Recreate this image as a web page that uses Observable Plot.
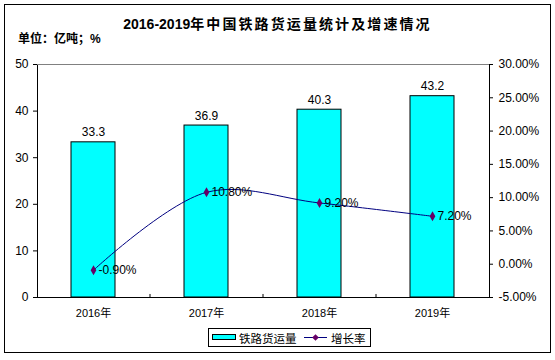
<!DOCTYPE html>
<html>
<head>
<meta charset="utf-8">
<script src="https://cdn.jsdelivr.net/npm/d3@7"></script>
<script src="https://cdn.jsdelivr.net/npm/@observablehq/plot@0.6"></script>
<style>
  html, body { margin: 0; padding: 0; background: #fff; }
  #wrap { position: relative; width: 555px; height: 360px; font-family: "Liberation Sans", "Noto Sans CJK SC", sans-serif; }
  #border { position: absolute; left: 4px; top: 4px; width: 547px; height: 349px; border: 1px solid #000; box-sizing: border-box; pointer-events: none; }
  #title { position: absolute; left: 0; width: 555px; top: 17px; text-align: center; font-size: 14px; line-height: 14px; font-weight: bold; color: #000; white-space: nowrap; }
  #title .cjk { letter-spacing: 2.1px; }
  #unit { position: absolute; left: 18px; top: 33px; font-size: 12px; line-height: 13px; font-weight: bold; color: #000; white-space: nowrap; }
  #legend { position: absolute; left: 208px; top: 328px; }
  #chart { position: absolute; left: 0; top: 0; }
</style>
</head>
<body>
<div id="wrap">
  <div id="chart"></div>
  <div id="border"></div>
  <div id="title"></div>
  <div id="unit"></div>
  <svg id="legend" width="164" height="20"></svg>
</div>
<script>
// ---- data ----
const years = ["2016年", "2017年", "2018年", "2019年"];
const volume = [33.3, 36.9, 40.3, 43.2];          // 亿吨
const growth = [-0.9, 10.8, 9.2, 7.2];             // %
const leftTicks = [0, 10, 20, 30, 40, 50];
const pctTicks = [-5, 0, 5, 10, 15, 20, 25, 30];
const pctTickLabels = ["-5.00%", "0.00%", "5.00%", "10.00%", "15.00%", "20.00%", "25.00%", "30.00%"];
const titleDigits = "2016-2019";
const titleCjk = "年中国铁路货运量统计及增速情况";
const unitText = "单位：亿吨；%";
const seriesNames = ["铁路货运量", "增长率"];

// ---- map secondary axis (-5%..30%) onto primary (0..50) ----
const pMin = -5, pMax = 30, yMax = 50;
const toY = p => (p - pMin) / (pMax - pMin) * yMax;

const data = years.map((y, i) => ({year: y, volume: volume[i], growth: growth[i]}));

document.getElementById("title").innerHTML =
  `<span>${titleDigits}</span><span class="cjk">${titleCjk}</span>`;
document.getElementById("unit").textContent = unitText;

const plotW = 555, mL = 37, mR = 66;
const step = (plotW - mL - mR) / years.length;

const chart = Plot.plot({
  width: 555,
  height: 360,
  marginLeft: mL,
  marginRight: mR,
  marginTop: 64,
  marginBottom: 63,
  style: {fontFamily: '"Liberation Sans", "Noto Sans CJK SC", sans-serif', fontSize: "12px", color: "#000", background: "transparent", overflow: "visible"},
  x: {type: "band", domain: years, paddingInner: 0.61, paddingOuter: 0.305},
  y: {domain: [0, 50]},
  marks: [
    Plot.barY(data, {x: "year", y: "volume", fill: "#00FFFF", stroke: "#000", strokeWidth: 1}),
    Plot.frame({stroke: "#000"}),
    Plot.ruleY([50], {stroke: "#808080"}),
    Plot.ruleX(years.slice(1), {x: d => d, y1: 0, y2: 0.65, dx: -step / 2, stroke: "#000"}),
    Plot.text(data, {x: "year", y: "volume", text: d => d.volume.toFixed(1), lineAnchor: "bottom", dy: -6, fontSize: 12, fill: "#000"}),
    Plot.line(data, {x: "year", y: d => toY(d.growth), curve: "catmull-rom", stroke: "#000080", strokeWidth: 1}),
    Plot.dot(data, {x: "year", y: d => toY(d.growth), symbol: "diamond", r: 3, fill: "#660066", stroke: "none"}),
    Plot.text(data, {x: "year", y: d => toY(d.growth), text: d => d.growth.toFixed(2) + "%", textAnchor: "start", dx: 5, fontSize: 12, fill: "#000"}),
    Plot.axisY({anchor: "left", ticks: leftTicks, tickSize: 4, tickPadding: 5, label: null, fontSize: 12}),
    Plot.axisY(pctTicks.map(toY), {anchor: "right", tickSize: 3, tickPadding: 6, label: null, fontSize: 12,
      tickFormat: v => pctTickLabels[pctTicks.findIndex(p => Math.abs(toY(p) - v) < 1e-9)]}),
    Plot.axisX({tickSize: 0, tickPadding: 12, label: null, fontSize: 11})
  ]
});
document.getElementById("chart").appendChild(chart);

// ---- legend ----
const lg = d3.select("#legend");
lg.append("rect").attr("x", 0.5).attr("y", 0.5).attr("width", 162).attr("height", 18).attr("fill", "#fff").attr("stroke", "#000");
lg.append("rect").attr("x", 4.5).attr("y", 6.5).attr("width", 23).attr("height", 5).attr("fill", "#00FFFF").attr("stroke", "#000");
lg.append("text").attr("x", 31).attr("y", 10).attr("dominant-baseline", "central").attr("font-size", "11.5px")
  .attr("font-family", '"Noto Sans CJK SC", sans-serif').text(seriesNames[0]);
lg.append("line").attr("x1", 96).attr("x2", 119).attr("y1", 9.5).attr("y2", 9.5).attr("stroke", "#000080");
lg.append("path").attr("d", d3.symbol(d3.symbolDiamond2, 28)()).attr("transform", "translate(107.5,9.5)").attr("fill", "#660066");
lg.append("text").attr("x", 123).attr("y", 10).attr("dominant-baseline", "central").attr("font-size", "11.5px")
  .attr("font-family", '"Noto Sans CJK SC", sans-serif').text(seriesNames[1]);
</script>
</body>
</html>
